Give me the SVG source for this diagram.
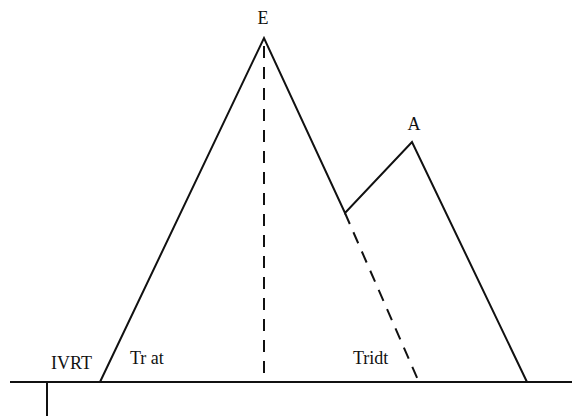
<svg xmlns="http://www.w3.org/2000/svg" width="576" height="416" viewBox="0 0 576 416">
<style>
.ln{stroke:#111;stroke-width:2;fill:none}
.ds{stroke:#111;stroke-width:2;fill:none;stroke-dasharray:12,9}
text{font-family:"Liberation Serif",serif;font-size:18px;fill:#111}
</style>
<rect width="576" height="416" fill="#fff"/>
<g id="axis">
<line class="ln" x1="10" y1="382" x2="572" y2="382"/>
<line class="ln" x1="47" y1="382" x2="47" y2="416"/>
</g>
<g id="connectors">
<polyline class="ln" points="100,382 264,38 345,213 412,142 527,382"/>
<line class="ds" x1="264" y1="46" x2="264" y2="380"/>
<line class="ds" x1="345" y1="213" x2="418" y2="380"/>
</g>
<g id="labels">
<text x="263" y="24" text-anchor="middle">E</text>
<text x="414" y="130" text-anchor="middle">A</text>
<text x="51" y="369">IVRT</text>
<text x="130" y="364">Tr at</text>
<text x="353" y="364">Tridt</text>
</g>
</svg>
